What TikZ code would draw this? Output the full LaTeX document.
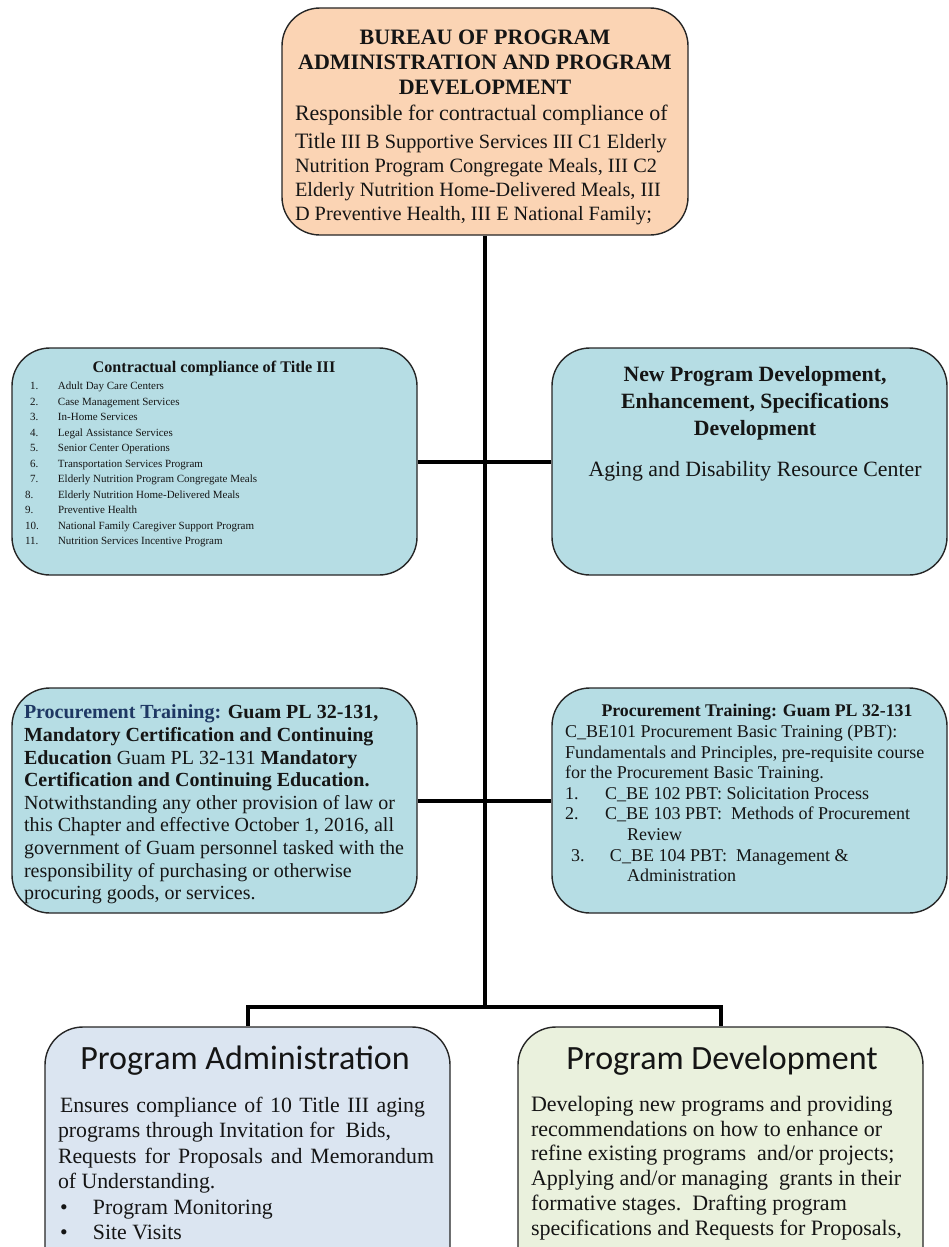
\documentclass[tikz,border=0pt]{standalone}
\usepackage{fontspec}
\setmainfont{Liberation Serif}
\newfontfamily\calib{Carlito}
\definecolor{peach}{HTML}{FBD4B4}
\definecolor{teal}{HTML}{B6DDE4}
\definecolor{paleblue}{HTML}{DBE5F1}
\definecolor{palegreen}{HTML}{EAF1DD}
\definecolor{navy}{HTML}{1F3864}
\definecolor{ink}{HTML}{151515}
\tikzset{
  box/.style={draw=black!85, line width=1.4pt, rounded corners=38pt, inner sep=0pt},
  txt/.style={inner sep=0pt, outer sep=0pt, text=ink},
  link/.style={line width=4pt, black}
}
\begin{document}
\begin{tikzpicture}[x=1pt,y=-1pt]
\clip (0,0) rectangle (949,1247);
\fill[white] (0,0) rectangle (949,1247);
% boxes
\node[box, fill=peach, minimum width=406pt, minimum height=227pt] (top) at (485,121.5) {};
\node[box, fill=teal, minimum width=405pt, minimum height=227pt] (cc) at (214.5,461.5) {};
\node[box, fill=teal, minimum width=395pt, minimum height=227pt] (npd) at (749.5,461.5) {};
\node[box, fill=teal, minimum width=405pt, minimum height=225pt] (ptl) at (214.5,800.5) {};
\node[box, fill=teal, minimum width=395pt, minimum height=225pt] (ptr) at (749.5,800.5) {};
\node[box, fill=paleblue, minimum width=405pt, minimum height=260pt] (pa) at (247.5,1157) {};
\node[box, fill=palegreen, minimum width=405pt, minimum height=260pt] (pd) at (720.5,1157) {};
\coordinate (j) at (485,1007);
% connectors
\draw[link] (top.south) -- (j);
\draw[link] (cc.east) -- (npd.west);
\draw[link] (ptl.east) -- (ptr.west);
\draw[link] (j) -| (pa.north);
\draw[link] (j) -| (pd.north);
% top text
\node[txt, anchor=north, align=center, font=\fontsize{22}{25}\selectfont\bfseries] (toptitle) at (485,30)
 {BUREAU OF PROGRAM\\ ADMINISTRATION AND PROGRAM\\ DEVELOPMENT};
\node[txt, anchor=north west, align=left, font=\fontsize{20.3}{24}\selectfont] (topbody) at (295,105)
 {{\fontsize{22}{24}\selectfont Responsible for contractual compliance of}\\[4pt]
  {\fontsize{22}{24}\selectfont Title} III B Supportive Services III C1 Elderly\\
  Nutrition Program Congregate Meals, III C2\\
  Elderly Nutrition Home-Delivered Meals, III\\
  D Preventive Health, III E National Family;};
% contractual compliance
\node[txt, font=\fontsize{16.2}{18}\selectfont\bfseries] (cctitle) at (214,369) {Contractual compliance of Title III};
\node[txt, anchor=north west, align=left, font=\fontsize{11}{15.5}\selectfont] (cclist) at (24,382)
 {\makebox[34pt][l]{\hspace{6pt}1.}Adult Day Care Centers\\
  \makebox[34pt][l]{\hspace{6pt}2.}Case Management Services\\
  \makebox[34pt][l]{\hspace{6pt}3.}In-Home Services\\
  \makebox[34pt][l]{\hspace{6pt}4.}Legal Assistance Services\\
  \makebox[34pt][l]{\hspace{6pt}5.}Senior Center Operations\\
  \makebox[34pt][l]{\hspace{6pt}6.}Transportation Services Program\\
  \makebox[34pt][l]{\hspace{6pt}7.}Elderly Nutrition Program Congregate Meals\\
  \makebox[34pt][l]{\hspace{1pt}8.}Elderly Nutrition Home-Delivered Meals\\
  \makebox[34pt][l]{\hspace{1pt}9.}Preventive Health\\
  \makebox[34pt][l]{\hspace{1pt}10.}National Family Caregiver Support Program\\
  \makebox[34pt][l]{\hspace{1pt}11.}Nutrition Services Incentive Program};
% new program development
\node[txt, anchor=north, align=center, font=\fontsize{21.8}{27}\selectfont\bfseries] (npdtitle) at (755,366)
 {New Program Development,\\ Enhancement, Specifications\\ Development};
\node[txt, font=\fontsize{21.8}{24}\selectfont] (adrc) at (755,471) {Aging and Disability Resource Center};
% procurement left
\node[txt, anchor=north west, align=left, font=\fontsize{20}{22.6}\selectfont] (ptlbody) at (24,705)
 {\textbf{\textcolor{navy}{Procurement Training:} Guam PL 32-131,}\\
  \textbf{Mandatory Certification and Continuing}\\
  \textbf{Education} Guam PL 32-131 \textbf{Mandatory}\\
  \textbf{Certification and Continuing Education.}\\
  Notwithstanding any other provision of law or\\
  this Chapter and effective October 1, 2016, all\\
  government of Guam personnel tasked with the\\
  responsibility of purchasing or otherwise\\
  procuring goods, or services.};
% procurement right
\node[txt, anchor=north, font=\fontsize{17.8}{19}\selectfont\bfseries] (ptrtitle) at (757,704) {Procurement Training: Guam PL 32-131};
\node[txt, anchor=north west, align=left, font=\fontsize{18}{20.6}\selectfont] (ptrbody) at (565,725)
 {C\_BE101 Procurement Basic Training (PBT):\\
  Fundamentals and Principles, pre-requisite course\\
  for the Procurement Basic Training.\\
  \makebox[40pt][l]{1.}C\_BE 102 PBT: Solicitation Process\\
  \makebox[40pt][l]{2.}C\_BE 103 PBT:\ \ Methods of Procurement\\
  \hspace{62pt}Review\\
  \makebox[45pt][l]{\hspace{6pt}3.}C\_BE 104 PBT:\ \ Management \&\\
  \hspace{62pt}Administration};
% program administration
\node[txt, font=\fontsize{34}{38}\calib] (patitle) at (245,1061) {Program Administration};
\node[txt, anchor=north west, align=left, font=\fontsize{21.8}{25.5}\selectfont] (pabody) at (58,1097)
 {\hspace{2pt}\makebox[365pt][s]{Ensures compliance of 10 Title III aging}\\
  programs through Invitation for\ \ Bids,\\
  \makebox[376pt][s]{Requests for Proposals and Memorandum}\\
  of Understanding.\\
  \makebox[35pt][l]{\hspace{2pt}•}Program Monitoring\\
  \makebox[35pt][l]{\hspace{2pt}•}Site Visits};
% program development
\node[txt, font=\fontsize{34}{38}\calib] (pdtitle) at (722,1061) {Program Development};
\node[txt, anchor=north west, align=left, font=\fontsize{22}{24.8}\selectfont] (pdbody) at (531,1096)
 {Developing new programs and providing\\
  recommendations on how to enhance or\\
  refine existing programs\ \ and/or projects;\\
  Applying and/or managing\ \ grants in their\\
  formative stages.\ \ Drafting program\\
  specifications and Requests for Proposals,};
\end{tikzpicture}
\end{document}
